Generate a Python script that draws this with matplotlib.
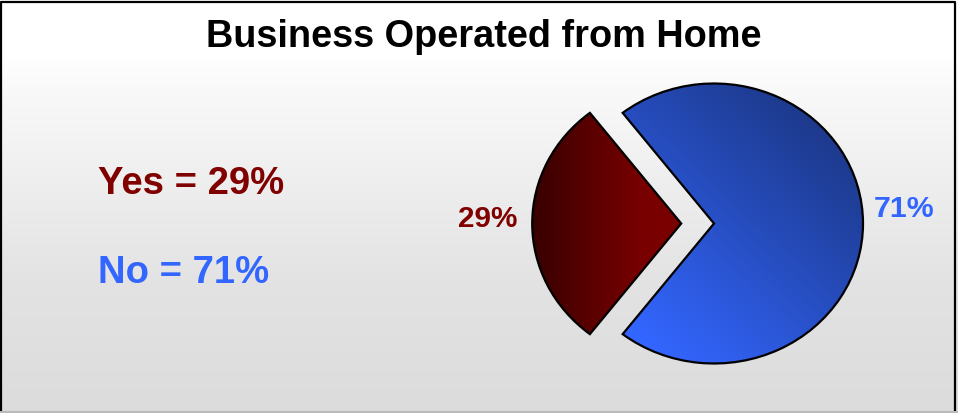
import numpy as np
import matplotlib
matplotlib.use("Agg")
import matplotlib.pyplot as plt

plt.rcParams['font.family'] = ['Liberation Sans', 'DejaVu Sans']

labels = ["Yes", "No"]
shares = [29, 71]
text_colors = ["#800000", "#3366ff"]
explode = [0.22, 0.0]

W, H = 958, 413
fig = plt.figure(figsize=(W / 100, H / 100), dpi=100)

# background: white behind the title, fading to light grey at the bottom
bg = fig.add_axes([0, 0, 1, 1])
bg.set_xlim(0, W)
bg.set_ylim(H, 0)
bg.axis('off')
y = np.arange(H)
shade = np.interp(y, [0, 55, 90, 125, 280, 410, 413],
                  [1.0, 1.0, 0.976, 0.96, 0.89, 0.862, 0.862])
bg.imshow(np.dstack([shade[:, None]] * 3), extent=(0, W, H, 0), aspect='auto', zorder=0)

# frame: black on three sides, grey rule along the bottom
bg.plot([1.5, 1.5, 955.5, 955.5], [410, 2, 2, 410], color='black', lw=1.6, zorder=5)
bg.plot([0, W], [411.5, 411.5], color='#b4b4b4', lw=1.2, zorder=5)

bg.text(484, 47, "Business Operated from Home", ha='center', va='baseline',
        fontsize=27.3, fontweight='bold', color='black')

# legend text on the left
for i, (lab, val) in enumerate(zip(labels, shares)):
    bg.text(98, 194 + i * 89, f"{lab} = {val}%", ha='left', va='baseline',
            fontsize=27.5, fontweight='bold', color=text_colors[i])

# value labels beside the slices
bg.text(517, 227, f"{shares[0]}%", ha='right', va='baseline',
        fontsize=21.3, fontweight='bold', color=text_colors[0])
bg.text(874, 217, f"{shares[1]}%", ha='left', va='baseline',
        fontsize=21.8, fontweight='bold', color=text_colors[1])

# pie axes: slightly wider than tall
ax = fig.add_axes([520.3 / W, 7.5 / H, 387.4 / W, 364 / H])
ax.set_facecolor('none')
start = 180 - shares[0] / sum(shares) * 180
wedges, _ = ax.pie(shares, explode=explode, startangle=start, counterclock=True,
                   wedgeprops=dict(fc='none', ec='black', lw=1.6))
ax.set_aspect('auto')

gx, gy = np.meshgrid(np.linspace(-1.3, 1.3, 400), np.linspace(-1.3, 1.3, 400))

# red: dark on the left, brighter towards the point
t = np.clip((gx + 1.22) / 0.75, 0, 1)[..., None]
red_dark = np.array([0x38, 0x00, 0x00]) / 255
red_light = np.array([0x7a, 0x00, 0x00]) / 255
red_img = red_dark * (1 - t) + red_light * t

# blue: bright at the lower left, deep at the upper right
s = np.clip((gx + gy + 1.3) / 2.8, 0, 1)[..., None]
blue_light = np.array([0x33, 0x66, 0xff]) / 255
blue_dark = np.array([0x1c, 0x38, 0x88]) / 255
blue_img = blue_light * (1 - s) + blue_dark * s

for wedge, img in zip(wedges, [red_img, blue_img]):
    im = ax.imshow(img, extent=(-1.3, 1.3, -1.3, 1.3), origin='lower',
                   aspect='auto', zorder=0.5)
    im.set_clip_path(wedge)
    wedge.set_zorder(2)

ax.set_xlim(-1.3, 1.3)
ax.set_ylim(-1.3, 1.3)
ax.axis('off')

fig.savefig("out.png", dpi=100)
